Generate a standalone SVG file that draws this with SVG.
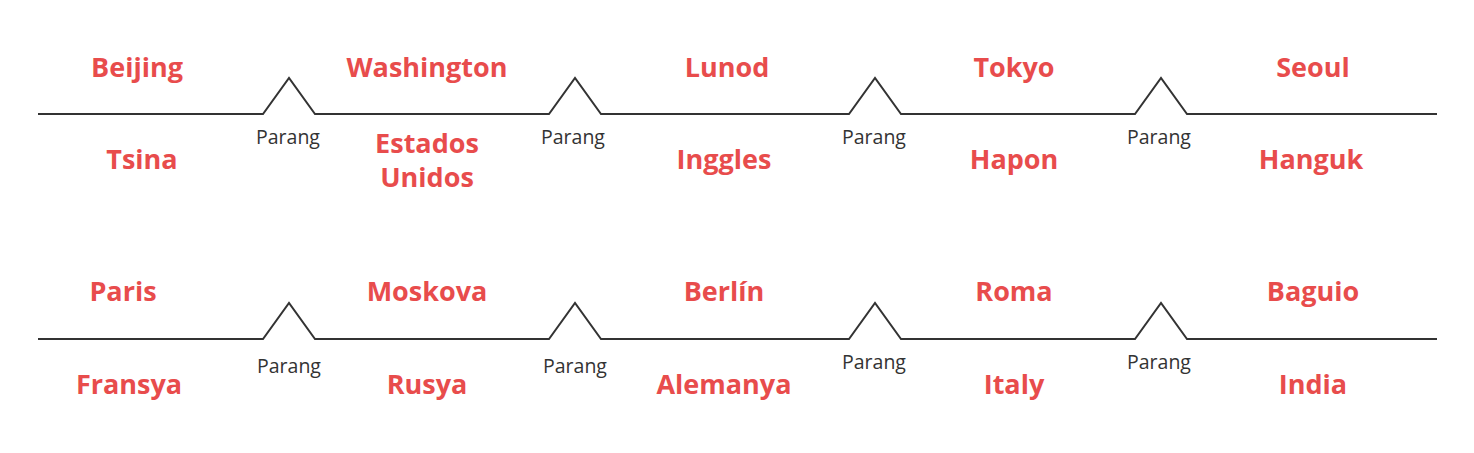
<svg xmlns="http://www.w3.org/2000/svg" width="1474" height="453" viewBox="0 0 1474 453">
<style>
.bg{fill:#ffffff}
.wire{fill:none;stroke:#333333;stroke-width:2;stroke-linejoin:miter}
.lbl{font-family:"Open Sans","Noto Sans","DejaVu Sans",sans-serif;font-weight:700;font-size:27px;fill:#e84c4c;text-anchor:middle}
.par{font-family:"Open Sans","Noto Sans","DejaVu Sans",sans-serif;font-size:19.5px;fill:#333333;text-anchor:middle}
</style>
<rect class="bg" x="0" y="0" width="1474" height="453"/>
<g id="connectors">
<polyline class="wire" points="38,114 263,114 289,78 315,114 549,114 575,78 601,114 849,114 875,78 901,114 1135,114 1161,78 1187,114 1437,114"/>
<polyline class="wire" points="38,339 263,339 289,303 315,339 549,339 575,303 601,339 849,339 875,303 901,339 1135,339 1161,303 1187,339 1437,339"/>
</g>
<g id="node-beijing"><text class="lbl" x="137" y="77">Beijing</text><text class="lbl" x="142" y="169">Tsina</text></g>
<g id="node-washington"><text class="lbl" x="427" y="77">Washington</text><text class="lbl" x="427" y="153">Estados</text><text class="lbl" x="427" y="187">Unidos</text></g>
<g id="node-lunod"><text class="lbl" x="727" y="77">Lunod</text><text class="lbl" x="724" y="169">Inggles</text></g>
<g id="node-tokyo"><text class="lbl" x="1014" y="77">Tokyo</text><text class="lbl" x="1014" y="169">Hapon</text></g>
<g id="node-seoul"><text class="lbl" x="1313" y="77">Seoul</text><text class="lbl" x="1311" y="169">Hanguk</text></g>
<g id="node-paris"><text class="lbl" x="123" y="301">Paris</text><text class="lbl" x="129" y="394">Fransya</text></g>
<g id="node-moskova"><text class="lbl" x="427" y="301">Moskova</text><text class="lbl" x="427" y="394">Rusya</text></g>
<g id="node-berlin"><text class="lbl" x="724" y="301">Berlín</text><text class="lbl" x="724" y="394">Alemanya</text></g>
<g id="node-roma"><text class="lbl" x="1014" y="301">Roma</text><text class="lbl" x="1014" y="394">Italy</text></g>
<g id="node-baguio"><text class="lbl" x="1313" y="301">Baguio</text><text class="lbl" x="1313" y="394">India</text></g>
<g id="parang-labels">
<text class="par" x="288" y="144">Parang</text>
<text class="par" x="573" y="144">Parang</text>
<text class="par" x="874" y="144">Parang</text>
<text class="par" x="1159" y="144">Parang</text>
<text class="par" x="289" y="373">Parang</text>
<text class="par" x="575" y="373">Parang</text>
<text class="par" x="874" y="369">Parang</text>
<text class="par" x="1159" y="369">Parang</text>
</g>
</svg>
